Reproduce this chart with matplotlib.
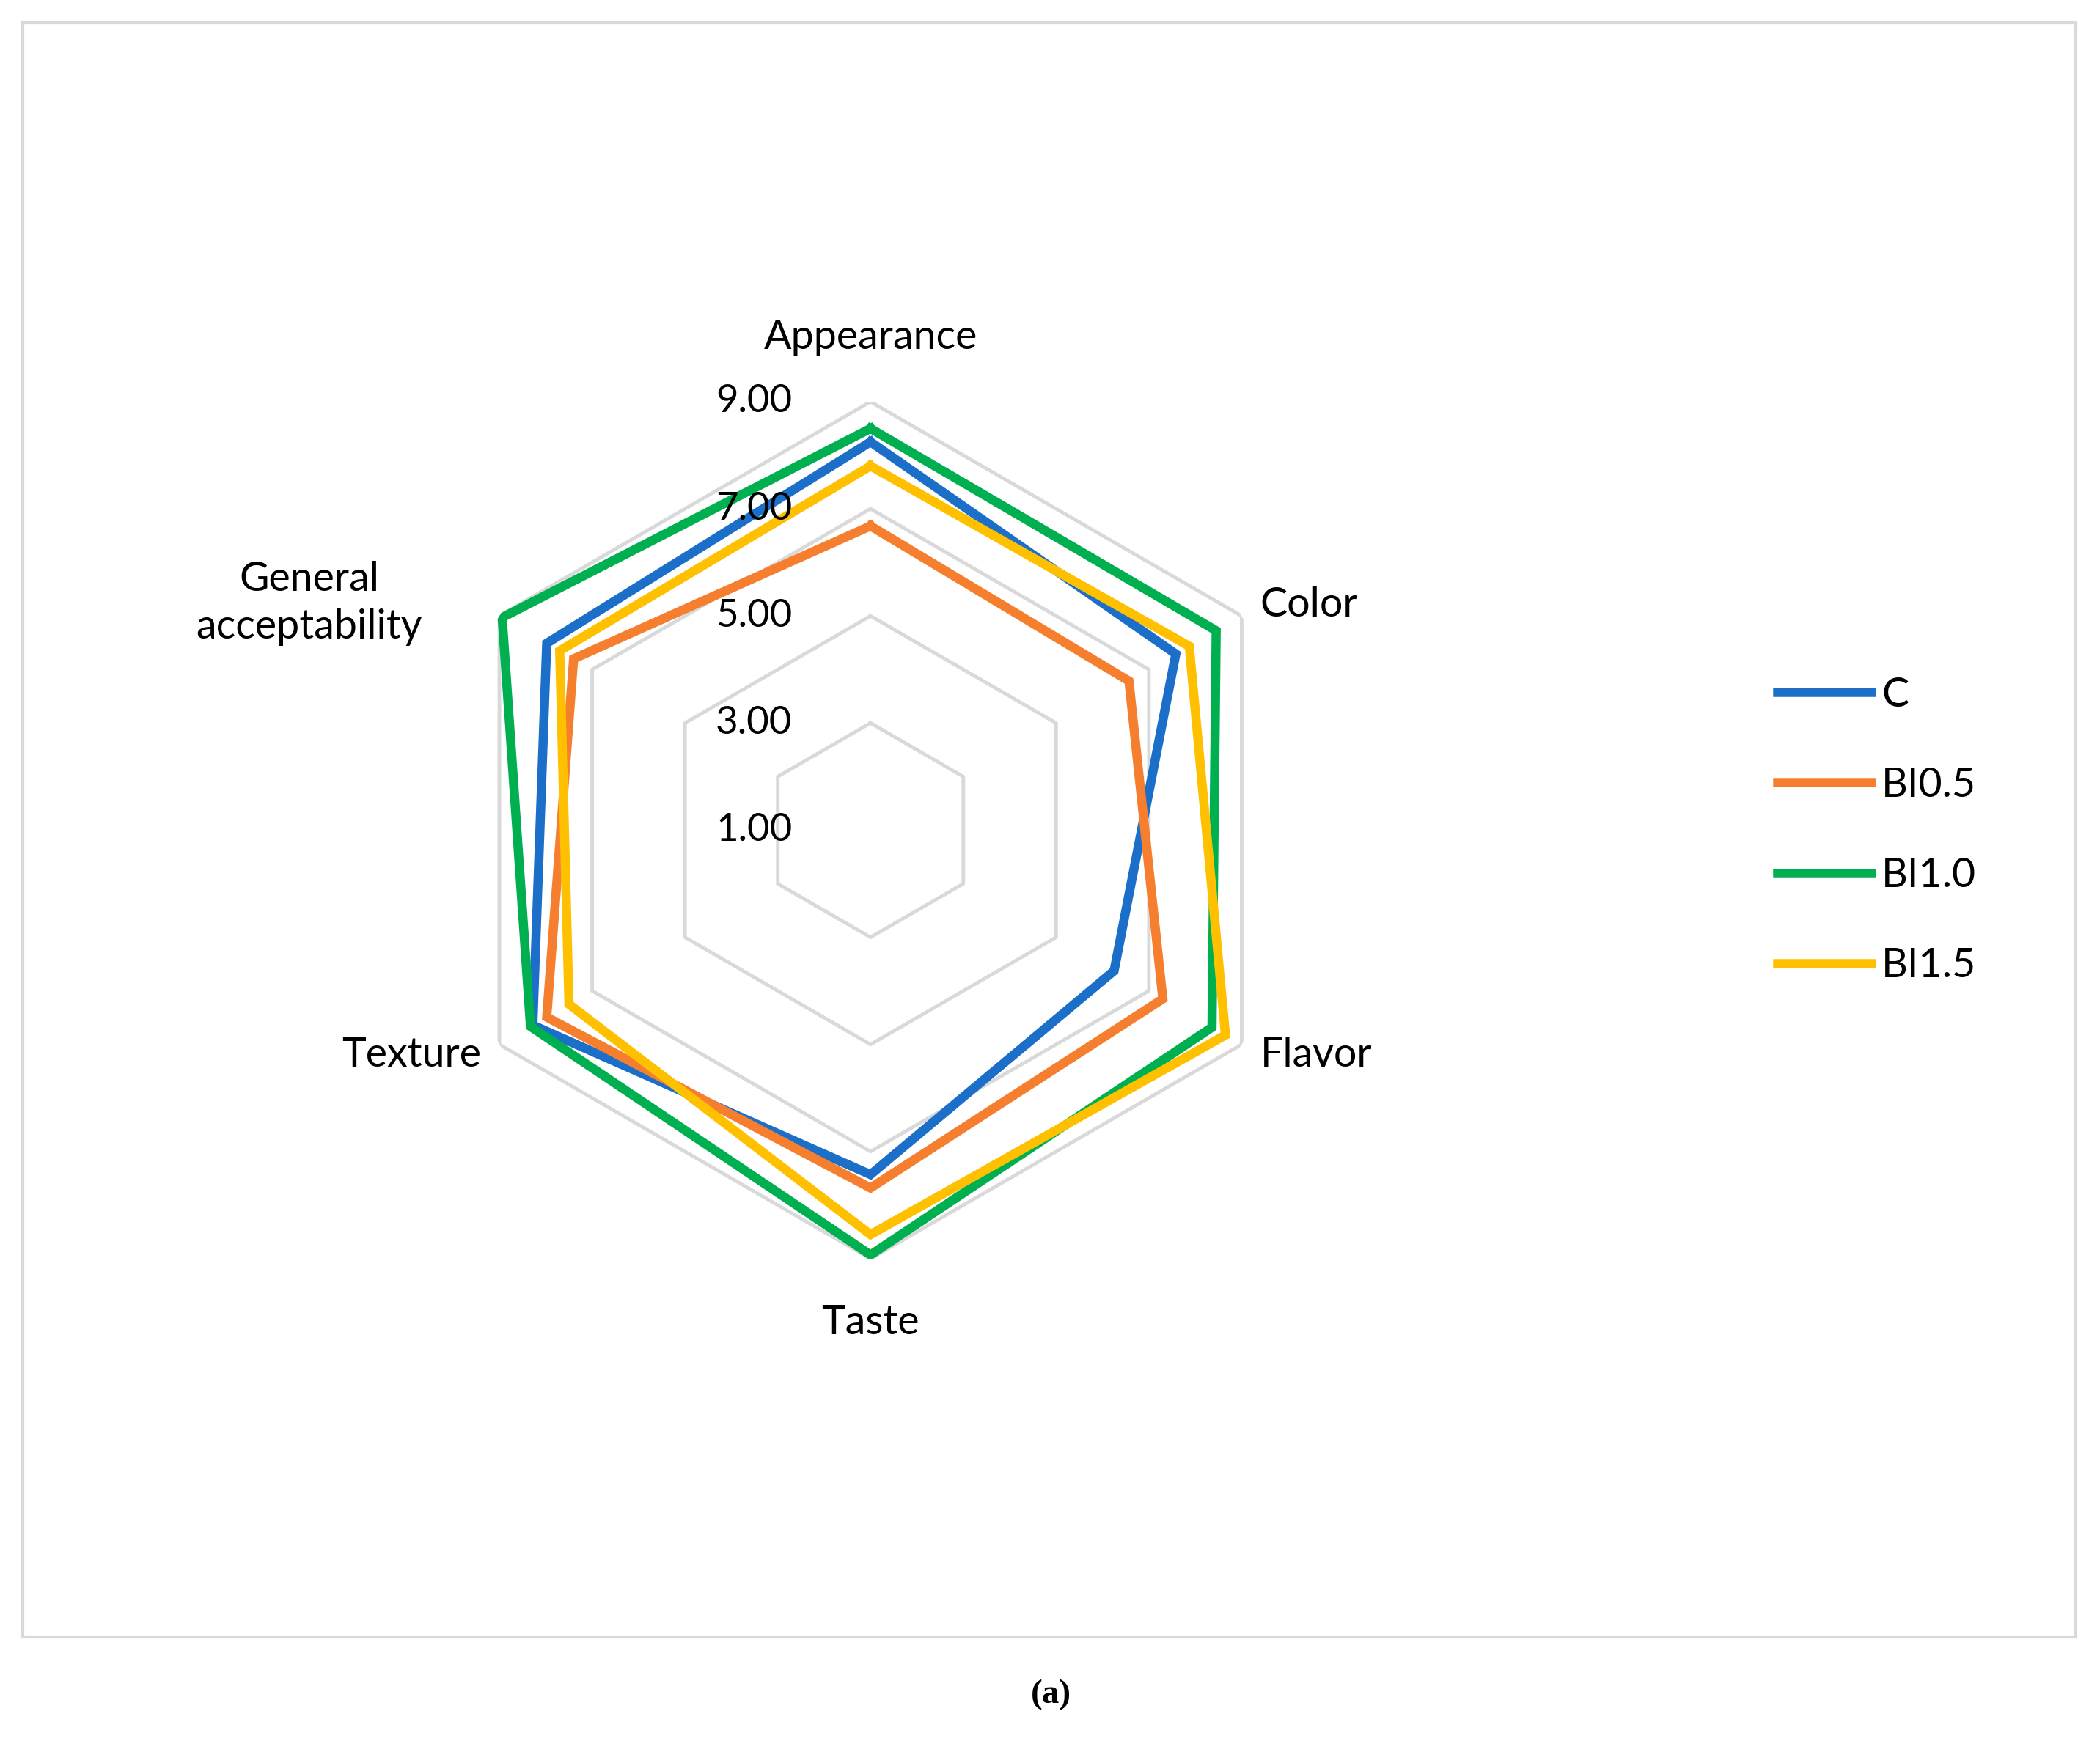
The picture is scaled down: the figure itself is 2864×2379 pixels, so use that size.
import numpy as np
import matplotlib.pyplot as plt
from matplotlib.patches import Rectangle
import matplotlib.transforms as mtransforms

plt.rcParams['font.family'] = ['Lato', 'DejaVu Sans']

categories = ['Appearance', 'Color', 'Flavor', 'Taste', 'Texture', 'General\nacceptability']
series = ['C', 'BI0.5', 'BI1.0', 'BI1.5']
values_c = [8.25, 7.58, 6.25, 7.43, 8.28, 7.98]
values_bi05 = [6.68, 6.57, 7.30, 7.68, 7.98, 7.40]
values_bi10 = [8.50, 8.45, 8.36, 8.93, 8.33, 8.94]
values_bi15 = [7.80, 7.87, 8.65, 8.55, 7.50, 7.70]
ring_ticks = [1, 3, 5, 7, 9]
colors = ['#1b6fc8', '#f57f2e', '#00b050', '#ffc000']

W, H = 2864, 2379
s = W / 1568  # reference preview scale
fig = plt.figure(figsize=(W / 100, H / 100), dpi=100)

# outer frame
fig.patches.append(Rectangle((17 / 1568, 1 - 1222 / 1302), (1550 - 17) / 1568, (1222 - 17) / 1302,
                             transform=fig.transFigure, fill=False, ec='#d9d9d9', lw=3))

cx, cy, rad = 650 * s / W, 1 - 620 * s / H, 320 * s
ax = fig.add_axes([cx - rad / W, cy - rad / H, 2 * rad / W, 2 * rad / H], projection='polar')
ax.set_theta_offset(np.pi / 2)
ax.set_theta_direction(-1)
ax.set_ylim(1, 9)
ax.axis('off')

theta = np.linspace(0, 2 * np.pi, len(categories), endpoint=False)
tc = np.append(theta, theta[0])

for r in ring_ticks[1:]:
    ax.plot(tc, [r] * len(tc), color='#d9d9d9', lw=3.5, zorder=1)

data = [values_c, values_bi05, values_bi10, values_bi15]
for name, vals, col in zip(series, data, colors):
    ax.plot(tc, vals + vals[:1], color=col, lw=9, label=name, zorder=3, solid_joinstyle='miter')

# ring value labels
off = mtransforms.offset_copy(ax.transData, fig=fig, x=-87 * s, y=0, units='dots')
for r in ring_ticks:
    ax.text(0, r, f'{r:.2f}', transform=off, ha='center', va='center', fontsize=38, zorder=4)

# category labels (theta in degrees clockwise from top, radius in data units)
label_pos = [(0, 10.2, 'center'), (60, 9.4, 'left'), (120, 9.4, 'left'),
             (180, 10.2, 'center'), (240, 9.4, 'right'), (292, 12.3, 'center')]
for name, (ang, r, ha) in zip(categories, label_pos):
    ax.text(np.deg2rad(ang), r, name, ha=ha, va='center', fontsize=40, clip_on=False,
            linespacing=1.35)

fig.legend(loc='center left', bbox_to_anchor=(1300 / 1568, 1 - 620 / 1302), frameon=False,
           fontsize=40, handlelength=2.3, handletextpad=0.25, labelspacing=1.3)

fig.text(785 / 1568, 1 - 1265 / 1302, '(a)', ha='center', va='center', fontsize=34,
         family='Liberation Serif', weight='bold')

fig.savefig('out.png', dpi=100)
